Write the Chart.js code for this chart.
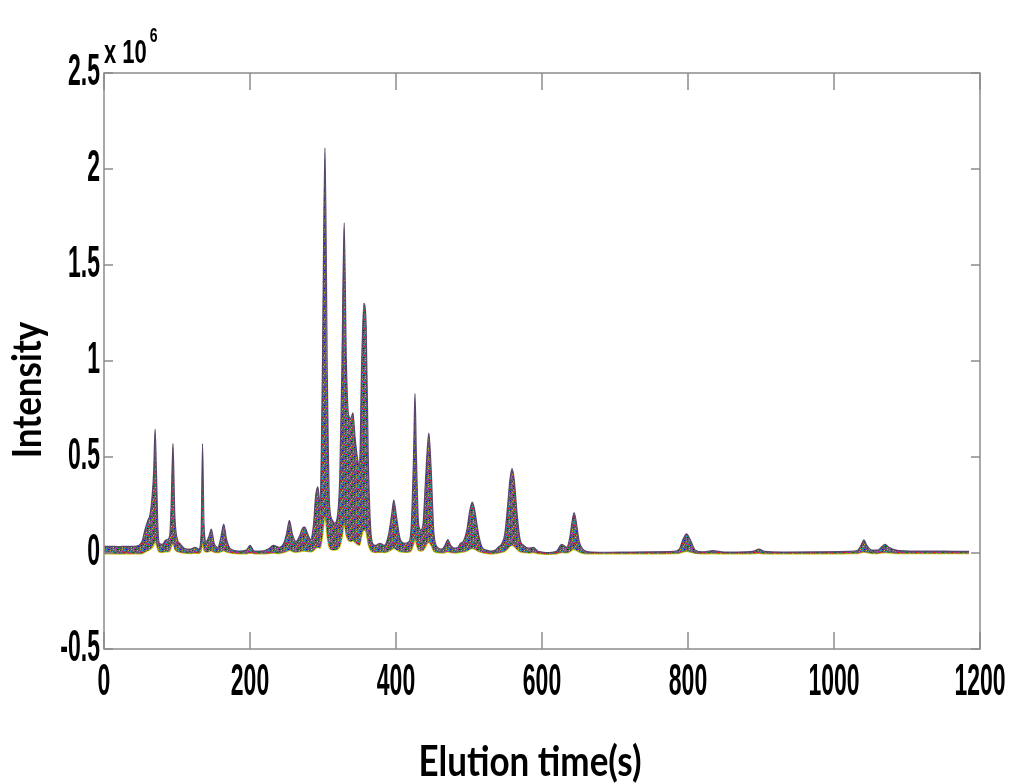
<!DOCTYPE html>
<html>
<head>
<meta charset="utf-8">
<script src="https://cdn.jsdelivr.net/npm/chart.js@4.4.1/dist/chart.umd.min.js"></script>
<style>
  body { margin: 0; background: #fff; }
  #wrap { width: 1013px; height: 784px; }
</style>
</head>
<body>
<div id="wrap"><canvas id="myChart" width="1013" height="784"></canvas></div>
<script>
// elution time (s) and envelope of all overlaid samples, intensity in units of 10^6
const elutionTime = [
  0, 10, 20, 30, 40, 48, 52, 56, 60, 63,
  66, 68, 70, 72, 74, 76, 80, 84, 87, 90,
  92, 94.5, 97, 100, 104, 110, 118, 125, 130, 133,
  135, 137, 140, 144, 147, 151, 156, 160, 164, 168,
  174, 185, 195, 200, 206, 215, 225, 232, 240, 246,
  250, 254, 258, 263, 268, 272, 275, 279, 283, 287,
  290, 293, 296, 299, 302.7, 306, 309, 313, 316, 320,
  323, 326, 329, 332, 335, 338, 341, 344, 347, 350,
  353, 356, 359, 362, 365, 368, 372, 378, 384, 390,
  394, 397, 401, 406, 412, 418, 421, 424, 426, 428,
  431, 434, 437, 440, 443, 445, 448, 452, 457, 463,
  467, 471, 475, 480, 485, 488, 492, 497, 501, 504.5,
  508, 513, 518, 524, 530, 536, 540, 545, 549, 553,
  556, 559, 562, 566, 570, 575, 582, 588, 594, 600,
  610, 620, 627, 634, 638, 641, 644, 647, 651, 656,
  662, 670, 690, 720, 750, 780, 788, 793, 798, 803,
  810, 820, 834, 850, 880, 890, 897, 905, 930, 980,
  1020, 1032, 1037, 1041, 1045, 1052, 1060, 1066, 1070, 1075,
  1085, 1110, 1150, 1185
];

const maxIntensity = [
  .035, .035, .033, .035, .035, .04, .06, .12, .17, .2,
  .3, .42, .645, .4, .12, .05, .045, .065, .07, .09,
  .25, .57, .2, .08, .05, .025, .02, .03, .02, .1,
  .57, .15, .06, .09, .125, .05, .03, .08, .15, .07,
  .02, .01, .015, .04, .01, .01, .02, .04, .03, .05,
  .1, .17, .1, .06, .09, .13, .135, .1, .07, .15,
  .3, .345, .25, .9, 2.11, .9, .25, .17, .155, .2,
  .4, 1.0, 1.72, 1.0, .72, .7, .73, .6, .5, .45,
  1.0, 1.3, 1.2, .5, .15, .05, .04, .05, .04, .1,
  .2, .275, .18, .07, .05, .06, .15, .5, .83, .5,
  .15, .12, .15, .35, .55, .625, .45, .1, .03, .02,
  .04, .07, .04, .025, .03, .05, .06, .12, .22, .265,
  .22, .1, .03, .015, .01, .015, .03, .05, .1, .25,
  .38, .44, .38, .2, .07, .04, .025, .03, .01, .005,
  .002, .01, .045, .03, .08, .16, .21, .16, .06, .02,
  .008, .005, .004, .005, .006, .008, .02, .07, .1, .07,
  .015, .006, .012, .005, .006, .01, .02, .008, .005, .006,
  .008, .012, .04, .068, .04, .015, .015, .035, .045, .03,
  .015, .01, .01, .008
];

const minIntensity = [
  -.004, -.004, -.005, -.004, -.004, -.004, -.003, .005, .012, .018,
  .028, .04, .06, .04, .015, .005, .004, .006, .007, .01,
  .03, .05, .02, .008, .004, 0, -.003, 0, -.002, .01,
  .05, .015, .005, .008, .012, .004, .002, .006, .012, .005,
  0, -.004, -.004, 0, -.004, -.004, -.003, 0, -.002, .002,
  .008, .014, .008, .004, .007, .01, .01, .008, .006, .012,
  .025, .03, .025, .08, .19, .08, .025, .015, .015, .02,
  .035, .08, .15, .09, .065, .06, .065, .055, .045, .04,
  .09, .12, .11, .045, .015, .005, .003, .004, .003, .009,
  .018, .025, .016, .006, .004, .005, .013, .045, .075, .045,
  .014, .011, .014, .03, .05, .056, .04, .009, .002, 0,
  .003, .006, .003, 0, .002, .004, .005, .01, .02, .024,
  .02, .009, .002, -.002, -.004, -.003, 0, .004, .009, .022,
  .034, .04, .034, .018, .006, .003, 0, .002, -.003, -.005,
  -.006, -.004, .003, .001, .007, .014, .019, .014, .005, -.001,
  -.004, -.004, -.004, -.004, -.004, -.003, -.001, .005, .009, .005,
  -.002, -.004, -.003, -.004, -.004, -.003, -.001, -.004, -.004, -.004,
  -.003, -.002, .002, .005, .002, -.002, -.002, .001, .003, .001,
  -.002, -.003, -.003, -.003
];

const xTicks = [0, 200, 400, 600, 800, 1000, 1200];
const yTicks = [-0.5, 0, 0.5, 1, 1.5, 2, 2.5];

// matlab default line colours, used to paint the band of overlaid samples
const lineColors = ['#0000ff', '#008000', '#ff0000', '#00bfbf', '#bf00bf', '#bfbf00', '#404040'];

const tile = document.createElement('canvas');
tile.width = 9;
tile.height = 9;
const tctx = tile.getContext('2d');
tctx.fillStyle = '#6e5f74';
tctx.fillRect(0, 0, 9, 9);
for (let y = 0; y < 9; y++) {
    for (let x = 0; x < 9; x++) {
        if ((x * 2 + y * 5) % 9 < 3) {
            tctx.fillStyle = lineColors[(x + y * 3) % 7];
            tctx.fillRect(x, y, 1, 1);
        }
    }
}
const bandFill = tctx.createPattern(tile, 'repeat');

const tickFont = 'bold 23px "Liberation Sans", Arial, sans-serif';
const titleFont = 'bold 35px Lato, "Open Sans", sans-serif';

// text stretched vertically, like the exported figure
function tallText(ctx, text, x, y, font, sy, align, angle) {
    ctx.save();
    ctx.translate(x, y);
    if (angle) ctx.rotate(angle);
    ctx.scale(1, sy);
    ctx.font = font;
    ctx.textAlign = align;
    ctx.textBaseline = 'middle';
    ctx.fillText(text, 0, 0);
    ctx.restore();
}

// box, inward ticks on all sides, tick labels, titles and the exponent label
const matlabAxes = {
    id: 'matlabAxes',
    afterDraw(chart) {
        const { ctx, chartArea: a, scales } = chart;
        ctx.save();
        ctx.strokeStyle = '#8c8c8c';
        ctx.lineWidth = 1.5;
        ctx.strokeRect(a.left, a.top, a.right - a.left, a.bottom - a.top);
        ctx.beginPath();
        xTicks.forEach(v => {
            const px = scales.x.getPixelForValue(v);
            ctx.moveTo(px, a.bottom); ctx.lineTo(px, a.bottom - 17);
            ctx.moveTo(px, a.top); ctx.lineTo(px, a.top + 17);
        });
        yTicks.forEach(v => {
            const py = scales.y.getPixelForValue(v);
            ctx.moveTo(a.left, py); ctx.lineTo(a.left + 9, py);
            ctx.moveTo(a.right, py); ctx.lineTo(a.right - 9, py);
        });
        ctx.stroke();

        ctx.fillStyle = '#000';
        xTicks.forEach(v => {
            tallText(ctx, String(v), scales.x.getPixelForValue(v), 683, tickFont, 1.9, 'center');
        });
        yTicks.forEach(v => {
            tallText(ctx, String(v), a.left - 4, scales.y.getPixelForValue(v), tickFont, 1.9, 'right');
        });

        tallText(ctx, 'x 10', a.left, 54, 'bold 22px "Liberation Sans", Arial, sans-serif', 1.5, 'left');
        ctx.font = 'bold 22px "Liberation Sans", Arial, sans-serif';
        const w = ctx.measureText('x 10').width;
        tallText(ctx, '6', a.left + w + 3, 36, 'bold 14px "Liberation Sans", Arial, sans-serif', 1.5, 'left');

        tallText(ctx, 'Elution time(s)', 530, 762, titleFont, 1.2, 'center');
        tallText(ctx, 'Intensity', 28, 390, titleFont, 1.15, 'center', -Math.PI / 2);
        ctx.restore();
    }
};

const data = {
    datasets: [{
        label: 'max',
        data: elutionTime.map((t, i) => ({ x: t, y: maxIntensity[i] })),
        borderColor: 'rgba(80, 60, 100, 0.9)',
        borderWidth: 1.2,
        backgroundColor: bandFill,
        fill: 1,
        pointRadius: 0,
        cubicInterpolationMode: 'monotone'
    }, {
        label: 'min',
        data: elutionTime.map((t, i) => ({ x: t, y: minIntensity[i] })),
        borderColor: '#c8c400',
        borderWidth: 1.5,
        fill: false,
        pointRadius: 0,
        cubicInterpolationMode: 'monotone'
    }]
};

const config = {
    type: 'line',
    data,
    options: {
        responsive: false,
        animation: false,
        layout: { padding: { top: 73, right: 33, left: 0, bottom: 0 } },
        plugins: {
            legend: { display: false },
            tooltip: { enabled: false }
        },
        scales: {
            x: {
                type: 'linear',
                min: 0,
                max: 1200,
                afterFit: s => { s.height = 135; },
                afterBuildTicks: s => { s.ticks = xTicks.map(v => ({ value: v })); },
                grid: { display: false },
                border: { display: false },
                ticks: { display: false }
            },
            y: {
                min: -0.5,
                max: 2.5,
                afterFit: s => { s.width = 104; },
                afterBuildTicks: s => { s.ticks = yTicks.map(v => ({ value: v })); },
                grid: { display: false },
                border: { display: false },
                ticks: { display: false }
            }
        }
    },
    plugins: [matlabAxes]
};

const myChart = new Chart(document.getElementById('myChart'), config);
</script>
</body>
</html>
